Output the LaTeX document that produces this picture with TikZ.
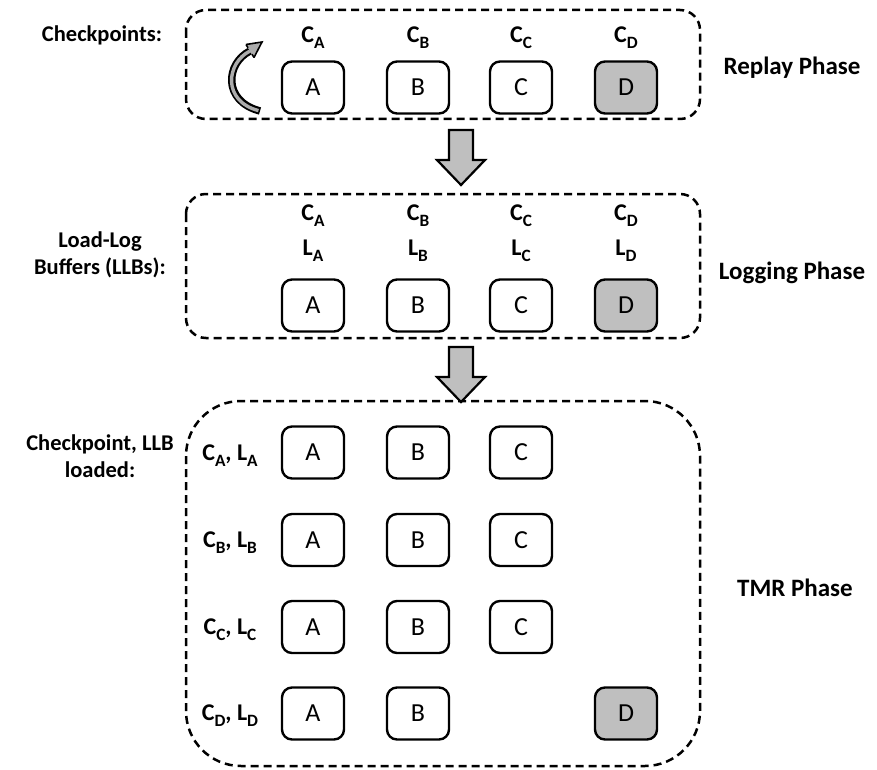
\documentclass[tikz,border=0pt]{standalone}
\usepackage{fontspec}
\setmainfont{Carlito}
\usetikzlibrary{calc}

% subscript used in the checkpoint / log labels
\newcommand\lsub[1]{\raisebox{-0.25em}{\scalebox{0.72}{#1}}}

\tikzset{
  phase/.style={draw=black, line width=2.5pt, dash pattern=on 8pt off 5pt, rounded corners=#1},
  core/.style={draw=black, line width=2.4pt, rounded corners=10pt, minimum width=62pt,
               minimum height=52pt, inner sep=0pt, font=\fontsize{26}{30}\selectfont},
  busy/.style={core, fill=gray!50},
  lbl/.style={font=\fontsize{24}{28}\selectfont\bfseries, inner sep=0pt},
  side/.style={font=\fontsize{22.5}{27}\selectfont\bfseries, align=center, inner sep=0pt},
  phasename/.style={font=\fontsize{25}{30}\selectfont\bfseries, inner sep=0pt},
  blockarrow/.style={draw=black, line width=2.2pt, fill=gray!50, line join=miter},
}

\begin{document}
\begin{tikzpicture}[x=1pt, y=-1pt]
\useasboundingbox (0,0) rectangle (877,770);

% ---------- phase frames ----------
\draw[phase=20pt] (186,10) rectangle (700,119);
\draw[phase=20pt] (186,194) rectangle (700,338);
\draw[phase=55pt] (186,401) rectangle (700,766);

% ---------- replay phase ----------
\node[side] (ckp) at (102,35) {Checkpoints:};
\foreach \n/\x in {A/313,B/418,C/521} {
  \node[core] (r\n) at (\x,87.5) {\n};
  \node[lbl] (rc\n) at (\x,38) {C\lsub{\n}};
}
\node[busy] (rD) at (626,87.5) {D};
\node[lbl] (rcD) at (626,38) {C\lsub{D}};
\node[phasename] (replay) at (792,68) {Replay Phase};

% curved replay arrow
\coordinate (cs) at (260,111);
\coordinate (ce) at (250,51);
\draw[line width=7.5pt] (cs) .. controls (222,101) and (226,63) .. (ce);
\draw[gray!65, line width=3.4pt, shorten <=1.6pt] (cs) .. controls (222,101) and (226,63) .. (ce);
\coordinate (hb1) at (254,57.5);
\coordinate (hb2) at (246,44.5);
\coordinate (ht) at (262,42);
\fill[gray!65] (hb1) -- (ht) -- (hb2) -- cycle;
\draw[line width=1.6pt, line join=miter] (hb1) -- (ht) -- (hb2);
\draw[line width=1.6pt] (hb1) -- ($(ce)!0.5!(hb1)$);
\draw[line width=1.6pt] (hb2) -- ($(ce)!0.5!(hb2)$);

% ---------- logging phase ----------
\node[side] (llb) at (100,255) {Load-Log\\Buffers (LLBs):};
\foreach \n/\x in {A/313,B/418,C/521} {
  \node[core] (l\n) at (\x,305.5) {\n};
  \node[lbl] (lc\n) at (\x,216) {C\lsub{\n}};
  \node[lbl] (ll\n) at (\x,251) {L\lsub{\n}};
}
\node[busy] (lD) at (626,305.5) {D};
\node[lbl] (lcD) at (626,216) {C\lsub{D}};
\node[lbl] (llD) at (626,251) {L\lsub{D}};
\node[phasename] (logging) at (792,273) {Logging Phase};

% ---------- TMR phase ----------
\node[side] (cll) at (100,456) {Checkpoint, LLB\\loaded:};
\foreach \r/\y in {A/452.5,B/540,C/627} {
  \node[lbl] (t\r) at (230,\y+3) {C\lsub{\r}, L\lsub{\r}};
  \node[core] (t\r A) at (313,\y) {A};
  \node[core] (t\r B) at (418,\y) {B};
  \node[core] (t\r C) at (521,\y) {C};
}
\node[lbl] (tD) at (230,716) {C\lsub{D}, L\lsub{D}};
\node[core] (tDA) at (313,713.5) {A};
\node[core] (tDB) at (418,713.5) {B};
\node[busy] (tDD) at (626,713.5) {D};
\node[phasename] (tmr) at (795,588) {TMR Phase};

% ---------- block arrows between phases ----------
\foreach \t in {130,347} {
  \draw[blockarrow] (449,\t) -- (473,\t) -- (473,\t+30) -- (485,\t+30)
    -- (461,\t+55) -- (437,\t+30) -- (449,\t+30) -- cycle;
}
\end{tikzpicture}
\end{document}
